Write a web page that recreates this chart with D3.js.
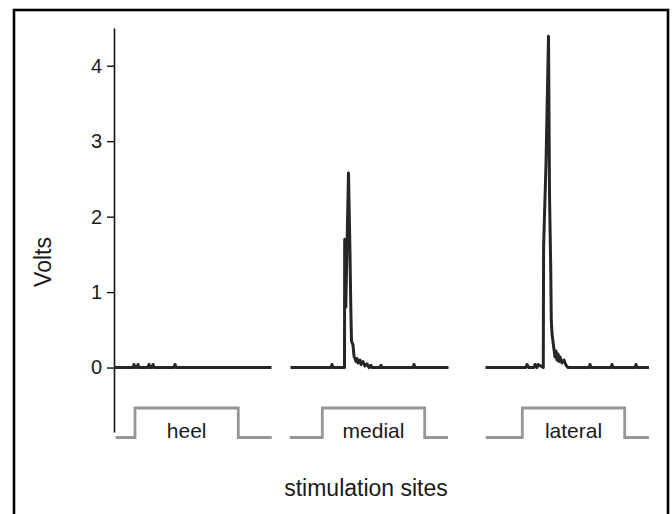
<!DOCTYPE html>
<html>
<head>
<meta charset="utf-8">
<script src="https://cdn.jsdelivr.net/npm/d3@7"></script>
<style>
  html, body { margin: 0; padding: 0; background: #fff; }
  svg { display: block; font-family: "Liberation Sans", Arial, Helvetica, sans-serif; }
</style>
</head>
<body>
<svg id="chart" width="672" height="514"></svg>
<script>
// ---- data ----
const sites = ["heel", "medial", "lateral"];
const yTicks = [0, 1, 2, 3, 4];
const yTickLabels = ["0", "1", "2", "3", "4"];

// recorded trace breakpoints: time (arbitrary units) and Volts
const heelTime   = [0.00, 0.19, 0.20, 0.21, 0.23, 0.24, 0.25, 0.34, 0.35, 0.36, 0.38, 0.39, 0.40, 0.60, 0.61, 0.62, 1.575];
const heelVolts  = [0.00, 0.00, 0.04, 0.00, 0.00, 0.04, 0.00, 0.00, 0.04, 0.00, 0.00, 0.04, 0.00, 0.00, 0.04, 0.00, 0.00];

const medialTime  = [1.765, 2.17, 2.18, 2.19, 2.305, 2.307, 2.318, 2.345, 2.36, 2.368, 2.375, 2.39, 2.40, 2.41, 2.42, 2.43, 2.44, 2.46, 2.47, 2.49, 2.51, 2.53, 2.55, 2.57, 2.58, 2.66, 2.67, 2.68, 2.99, 3.00, 3.01, 3.345];
const medialVolts = [0.00, 0.00, 0.04, 0.00, 0.00, 1.70, 0.80, 2.58, 1.50, 0.80, 0.35, 0.30, 0.15, 0.12, 0.08, 0.12, 0.06, 0.10, 0.04, 0.08, 0.02, 0.05, 0.00, 0.03, 0.00, 0.00, 0.03, 0.00, 0.00, 0.04, 0.00, 0.00];

const lateralTime  = [3.715, 4.12, 4.13, 4.15, 4.16, 4.20, 4.21, 4.23, 4.24, 4.293, 4.296, 4.32, 4.345, 4.355, 4.367, 4.373, 4.38, 4.40, 4.41, 4.42, 4.43, 4.44, 4.45, 4.46, 4.48, 4.50, 4.52, 4.54, 4.60, 4.75, 4.76, 4.77, 4.97, 4.98, 4.99, 5.21, 5.22, 5.23, 5.35];
const lateralVolts = [0.00, 0.00, 0.04, 0.00, 0.00, 0.00, 0.04, 0.00, 0.04, 0.00, 1.60, 2.70, 4.39, 2.30, 1.34, 0.63, 0.45, 0.24, 0.14, 0.22, 0.10, 0.18, 0.08, 0.14, 0.06, 0.10, 0.03, 0.00, 0.00, 0.00, 0.04, 0.00, 0.00, 0.04, 0.00, 0.00, 0.04, 0.00, 0.00];

// stimulus pulses (0 = off, 1 = on)
const heelPulseTime     = [0.017, 0.21, 0.21, 1.243, 1.243, 1.577];
const medialPulseTime   = [1.76, 2.083, 2.083, 3.107, 3.107, 3.34];
const lateralPulseTime  = [3.717, 4.083, 4.083, 5.107, 5.107, 5.35];
const pulseLevels       = [0, 0, 1, 1, 0, 0];

const traces = [
  { site: sites[0], t: heelTime,    v: heelVolts,    pt: heelPulseTime },
  { site: sites[1], t: medialTime,  v: medialVolts,  pt: medialPulseTime },
  { site: sites[2], t: lateralTime, v: lateralVolts, pt: lateralPulseTime }
];

// ---- drawing ----
const svg = d3.select("#chart");

// outer frame
svg.append("rect")
  .attr("x", 14).attr("y", 10)
  .attr("width", 654).attr("height", 520)
  .attr("fill", "none").attr("stroke", "#000").attr("stroke-width", 2.6);

const x = d3.scaleLinear().domain([0, 5.36]).range([114, 650]);
const y = d3.scaleLinear().domain([-0.854, 4.5]).range([432, 28]);
const yPulse = d3.scaleLinear().domain([0, 1]).range([437.5, 408]);

// y axis
const yAxis = d3.axisLeft(y).tickValues(yTicks)
  .tickFormat((d, i) => yTickLabels[i])
  .tickSizeOuter(0).tickSizeInner(7).tickPadding(5);
const gy = svg.append("g").attr("transform", `translate(${x(0)},0)`).call(yAxis);
gy.select(".domain").attr("stroke", "#111").attr("stroke-width", 1.6);
gy.selectAll(".tick line").attr("stroke", "#111").attr("stroke-width", 1.4);
gy.selectAll(".tick text").attr("font-size", 20).attr("fill", "#1a1a1a")
  .attr("font-family", "'Liberation Sans', Arial, sans-serif");

const line = d3.line().x(d => x(d[0])).y(d => y(d[1])).curve(d3.curveLinear);
const pulseLine = d3.line().x(d => x(d[0])).y(d => yPulse(d[1]));

traces.forEach(tr => {
  const pts = tr.t.map((t, i) => [t, tr.v[i]]);
  svg.append("path").datum(pts)
    .attr("d", line)
    .attr("fill", "none").attr("stroke", "#262626")
    .attr("stroke-width", 3).attr("stroke-linejoin", "round");

  const pp = tr.pt.map((t, i) => [t, pulseLevels[i]]);
  svg.append("path").datum(pp)
    .attr("d", pulseLine)
    .attr("fill", "none").attr("stroke", "#979797")
    .attr("stroke-width", 2.8);

  svg.append("text")
    .attr("x", x((tr.pt[2] + tr.pt[3]) / 2))
    .attr("y", 438)
    .attr("text-anchor", "middle")
    .attr("font-size", 21)
    .attr("fill", "#1a1a1a")
    .text(tr.site);
});

// axis titles
svg.append("text")
  .attr("transform", "translate(51,262) rotate(-90)")
  .attr("text-anchor", "middle")
  .attr("font-size", 23)
  .attr("fill", "#1a1a1a")
  .text("Volts");

svg.append("text")
  .attr("x", 366).attr("y", 496)
  .attr("text-anchor", "middle")
  .attr("font-size", 23)
  .attr("fill", "#1a1a1a")
  .text("stimulation sites");
</script>
</body>
</html>
